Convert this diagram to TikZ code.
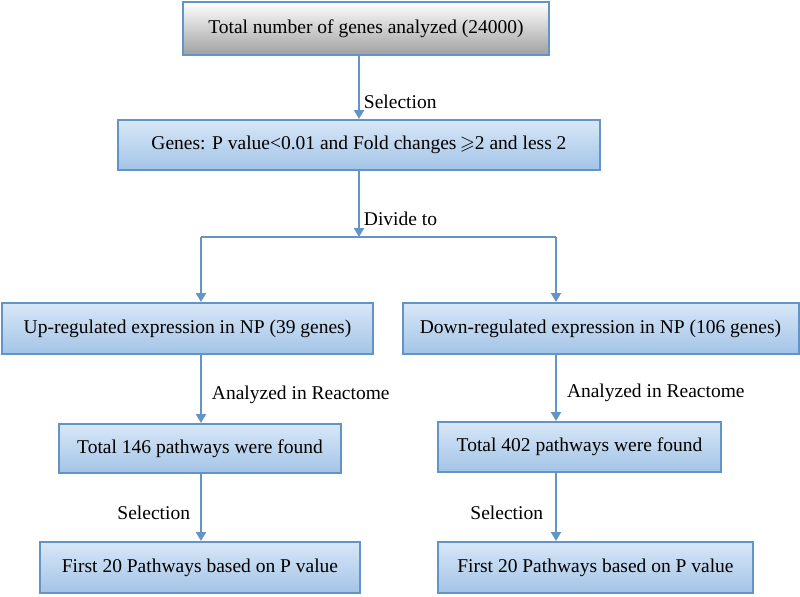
\documentclass[tikz,border=0pt]{standalone}
\usepackage{amssymb}
\usepackage{fontspec}
\setmainfont{Liberation Serif}
\usetikzlibrary{arrows.meta}
\definecolor{edgeblue}{RGB}{98,148,199}
\definecolor{filltop}{RGB}{216,231,247}
\definecolor{fillbot}{RGB}{163,196,231}
\definecolor{graybot}{RGB}{160,160,160}
\begin{document}
\begin{tikzpicture}[
                x=0.5pt, y=-0.5pt,
                box/.style={draw=edgeblue, line width=1pt, top color=filltop, bottom color=fillbot, inner sep=0pt, font=\fontsize{9.75}{12}\selectfont},
                graybox/.style={box, top color=white, bottom color=graybot},  % Grey box at the top
                arrow/.style={draw=edgeblue, line width=1pt, -{Triangle[length=4.5pt,width=5pt]}},
                line/.style={draw=edgeblue, line width=1pt},
                lbl/.style={font=\fontsize{9.75}{12}\selectfont, inner sep=2pt}
            ]
            \useasboundingbox (0,0) rectangle (800,596);

            % Top of the chart
            \node[graybox, minimum width=183pt, minimum height=26.5pt] (total) at (366,28.5) {Total number of genes analyzed (24000)};
            \node[box, minimum width=241pt, minimum height=25pt] (genes) at (359,145) {Genes: P value<0.01 and Fold changes\,$\geqslant$2 and less 2};

            % Two branches
            \node[box, minimum width=185.5pt, minimum height=25.5pt] (up) at (187.5,328.5) {Up-regulated expression in NP (39 genes)};
            \node[box, minimum width=198pt, minimum height=25.5pt] (down) at (600.5,328.5) {Down-regulated expression in NP (106 genes)};

            % Pathways found
            \node[box, minimum width=141pt, minimum height=24.5pt] (upfound) at (200,448.5) {Total 146 pathways were found};
            \node[box, minimum width=141.5pt, minimum height=25pt] (downfound) at (579.5,447) {Total 402 pathways were found};

            % First 20 pathways
            \node[box, minimum width=160pt, minimum height=25.5pt] (upfirst) at (200,567.5) {First 20 Pathways based on P value};
            \node[box, minimum width=157.5pt, minimum height=25.5pt] (downfirst) at (595.5,567.5) {First 20 Pathways based on P value};

            % Split points
            \coordinate (split) at (359,237);
            \coordinate (brL) at (201,237);
            \coordinate (brR) at (556,237);

            % Connectors
            \draw[arrow] (genes.north |- total.south) -- (genes.north) node[lbl, pos=0.72, anchor=west] {Selection};
            \draw[arrow] (genes.south) -- (split) node[lbl, pos=0.72, anchor=west] {Divide to};
            \draw[line] (brL) -- (brR);
            \draw[arrow] (brL) -- (brL |- up.north);
            \draw[arrow] (brR) -- (brR |- down.north);
            \draw[arrow] (brL |- up.south) -- (brL |- upfound.north) node[lbl, pos=0.58, anchor=west, xshift=3pt] {Analyzed in Reactome};
            \draw[arrow] (brR |- down.south) -- (brR |- downfound.north) node[lbl, pos=0.58, anchor=west, xshift=3pt] {Analyzed in Reactome};
            \draw[arrow] (brL |- upfound.south) -- (brL |- upfirst.north) node[lbl, pos=0.58, anchor=east, xshift=-3pt] {Selection};
            \draw[arrow] (brR |- downfound.south) -- (brR |- downfirst.north) node[lbl, pos=0.58, anchor=east, xshift=-4pt] {Selection};

        \end{tikzpicture}
\end{document}
